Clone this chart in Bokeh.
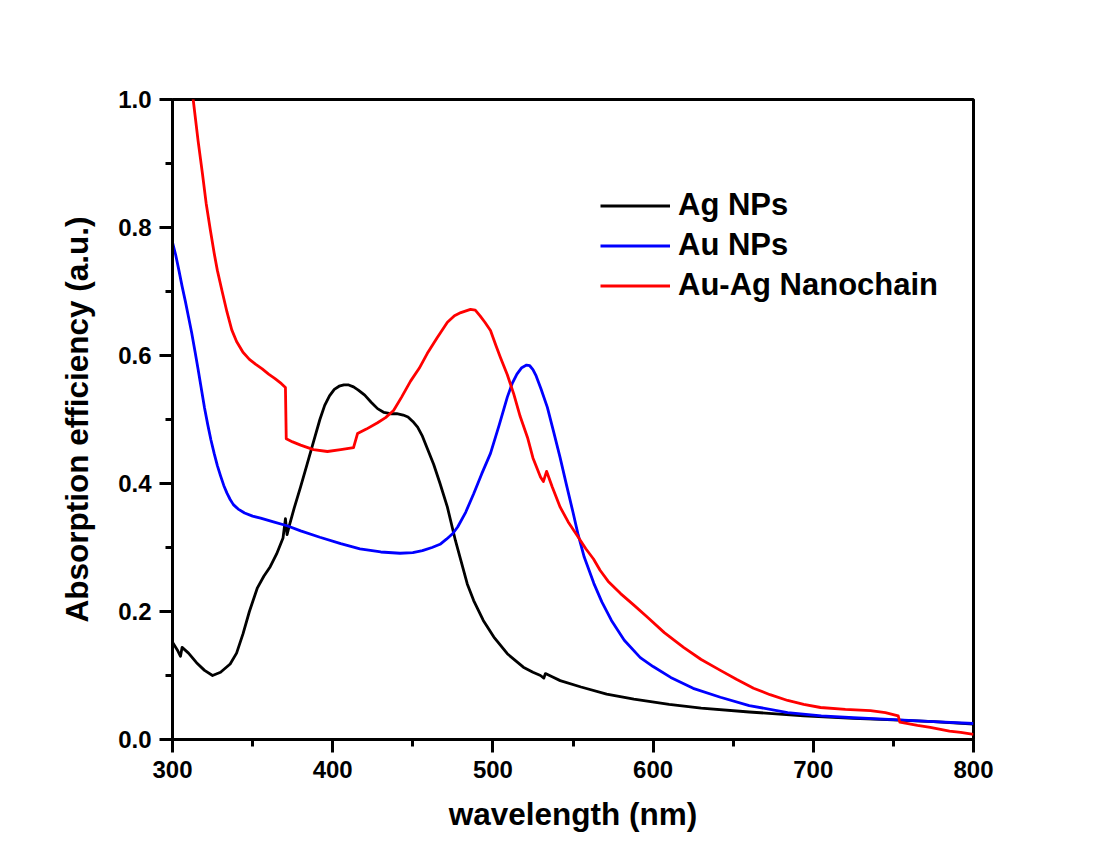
from bokeh.plotting import figure
from bokeh.models import Range1d, Legend, FixedTicker
from bokeh.embed import file_html
from bokeh.resources import INLINE

# ---- data ----
ag_x = [300, 303, 305, 306, 310, 315, 320, 325, 330, 336, 340, 344, 348, 353, 357, 361, 365, 369,
        370.5, 371.5, 373, 376, 380, 384, 388, 392, 395, 398, 401, 404, 407, 410, 413, 416, 420,
        424, 428, 432, 436, 440, 444, 447, 450, 453, 456, 459, 463, 467, 471.6, 476.6, 480, 484,
        488, 494, 500.6, 509, 519, 525, 529.7, 531.8, 532.8, 537, 542, 555, 571, 588, 610, 630,
        660, 694, 725, 746, 775, 800]
ag_y = [0.152, 0.14, 0.13, 0.144, 0.135, 0.12, 0.108, 0.10, 0.105, 0.118, 0.135, 0.165, 0.2, 0.237,
        0.255, 0.27, 0.29, 0.315, 0.345, 0.32, 0.335, 0.362, 0.395, 0.43, 0.465, 0.50, 0.522,
        0.537, 0.547, 0.552, 0.554, 0.554, 0.551, 0.546, 0.538, 0.527, 0.517, 0.511, 0.509, 0.509,
        0.507, 0.504, 0.497, 0.488, 0.474, 0.455, 0.43, 0.40, 0.363, 0.311, 0.28, 0.243, 0.217,
        0.186, 0.16, 0.134, 0.113, 0.105, 0.10, 0.096, 0.103, 0.098, 0.092, 0.082, 0.071, 0.063,
        0.055, 0.049, 0.043, 0.037, 0.033, 0.031, 0.028, 0.024]

au_x = [300, 302, 304, 306, 308, 310, 312, 314, 316, 318, 320, 322, 324, 326, 328, 330, 332, 334,
        336, 338, 341, 345, 350, 355, 363, 371.5, 380, 392, 405, 417, 430, 442, 450, 456, 462,
        467, 471, 475, 478, 483, 488, 493, 498.5, 504, 509, 512, 515, 518, 521, 523, 525, 527, 530,
        534, 538, 542, 546, 550, 553, 557, 563, 568, 574, 582, 592, 600, 611, 625, 642, 660, 684,
        705, 725, 750, 775, 800]
au_y = [0.777, 0.757, 0.733, 0.708, 0.685, 0.66, 0.635, 0.607, 0.578, 0.548, 0.518, 0.492, 0.468,
        0.447, 0.428, 0.412, 0.397, 0.385, 0.375, 0.367, 0.36, 0.354, 0.349, 0.346, 0.34, 0.334,
        0.326, 0.316, 0.306, 0.298, 0.293, 0.291, 0.292, 0.295, 0.3, 0.305, 0.313, 0.322, 0.332,
        0.355, 0.384, 0.415, 0.447, 0.492, 0.535, 0.556, 0.571, 0.581, 0.585, 0.584, 0.578, 0.568,
        0.548, 0.519, 0.48, 0.44, 0.397, 0.355, 0.322, 0.285, 0.244, 0.215, 0.186, 0.155, 0.128,
        0.114, 0.097, 0.08, 0.066, 0.053, 0.042, 0.037, 0.034, 0.031, 0.028, 0.025]

chain_x = [310, 313, 316, 318.7, 321, 323.7, 326, 328, 331, 334, 337, 340, 344, 348, 352, 356, 360,
           364, 368, 370.5, 371, 375, 380, 388, 396.7, 405, 413, 415.5, 421, 428, 433, 438, 443,
           448.6, 454, 459, 465, 471.6, 476, 480, 486, 489, 492, 495, 498.5, 502, 504.7, 509, 513,
           517, 521.6, 525, 529.7, 531.5, 533.5, 537, 542, 547, 552.8, 558, 562.8, 567, 572, 579.7,
           588, 596.5, 607, 619, 630, 642, 652, 662.7, 673, 684, 694, 704.5, 720, 735.7, 745, 753,
           754, 765, 773, 785, 792, 800]
chain_y = [1.06, 0.998, 0.935, 0.884, 0.838, 0.795, 0.76, 0.733, 0.70, 0.668, 0.64, 0.622, 0.605,
           0.594, 0.586, 0.579, 0.571, 0.564, 0.556, 0.55, 0.47, 0.465, 0.46, 0.453, 0.45, 0.453,
           0.456, 0.478, 0.485, 0.495, 0.503, 0.514, 0.535, 0.56, 0.58, 0.603, 0.627, 0.652, 0.662,
           0.667, 0.672, 0.671, 0.662, 0.652, 0.639, 0.615, 0.597, 0.57, 0.54, 0.505, 0.472, 0.44,
           0.41, 0.403, 0.419, 0.395, 0.363, 0.34, 0.318, 0.298, 0.282, 0.264, 0.247, 0.228, 0.21,
           0.191, 0.167, 0.144, 0.125, 0.108, 0.094, 0.08, 0.07, 0.061, 0.055, 0.05, 0.047, 0.045,
           0.042, 0.037, 0.027, 0.022, 0.019, 0.013, 0.011, 0.008]

series_names = ["Ag NPs", "Au NPs", "Au-Ag Nanochain"]
series_colors = ["#000000", "#0000ff", "#ff0000"]

x_ticks = [300, 400, 500, 600, 700, 800]
y_ticks = [0.0, 0.2, 0.4, 0.6, 0.8, 1.0]

FONT = "Liberation Sans"

p = figure(width=1092, height=845, output_backend="svg", toolbar_location=None,
           x_range=Range1d(300, 800), y_range=Range1d(0, 1.0),
           min_border_left=172, min_border_right=119, min_border_top=99, min_border_bottom=106,
           background_fill_color="white", border_fill_color="white")

p.xgrid.visible = False
p.ygrid.visible = False
p.outline_line_color = "black"
p.outline_line_width = 3
p.outline_line_alpha = 1.0

renderers = []
for xs, ys, c in [(ag_x, ag_y, series_colors[0]), (au_x, au_y, series_colors[1]),
                  (chain_x, chain_y, series_colors[2])]:
    r = p.line(xs, ys, line_color=c, line_width=2.8, line_join="round")
    renderers.append(r)

legend = Legend(items=[(n, [r]) for n, r in zip(series_names, renderers)],
                location=(428, 436), padding=0, margin=0, spacing=4,
                glyph_width=70, glyph_height=35, label_height=35, label_standoff=8,
                label_text_font=FONT, label_text_font_style="bold",
                label_text_font_size="31px", label_text_color="black",
                background_fill_alpha=0, border_line_alpha=0)
p.add_layout(legend)

for ax, ticks in [(p.xaxis[0], x_ticks), (p.yaxis[0], y_ticks)]:
    ax.ticker = FixedTicker(ticks=ticks,
                            minor_ticks=[t + (ticks[1] - ticks[0]) / 2 for t in ticks[:-1]])
    ax.axis_line_width = 3
    ax.axis_line_color = "black"
    ax.major_tick_line_width = 3
    ax.major_tick_line_color = "black"
    ax.minor_tick_line_width = 3
    ax.minor_tick_line_color = "black"
    ax.major_tick_out = 13
    ax.major_tick_in = 0
    ax.minor_tick_out = 7
    ax.minor_tick_in = 0
    ax.major_label_text_font = FONT
    ax.major_label_text_font_style = "bold"
    ax.major_label_text_font_size = "24px"
    ax.major_label_text_color = "black"
    ax.axis_label_text_font = FONT
    ax.axis_label_text_font_style = "bold"
    ax.axis_label_text_font_size = "31.5px"
    ax.axis_label_text_color = "black"

p.xaxis[0].axis_label = "wavelength (nm)"
p.yaxis[0].axis_label = "Absorption efficiency (a.u.)"
p.xaxis[0].major_label_standoff = 8
p.yaxis[0].major_label_standoff = 8
p.xaxis[0].axis_label_standoff = 15
p.yaxis[0].axis_label_standoff = 20
p.yaxis[0].major_label_overrides = {t: f"{t:.1f}" for t in y_ticks}

open("out.html", "w").write(file_html(p, INLINE))
